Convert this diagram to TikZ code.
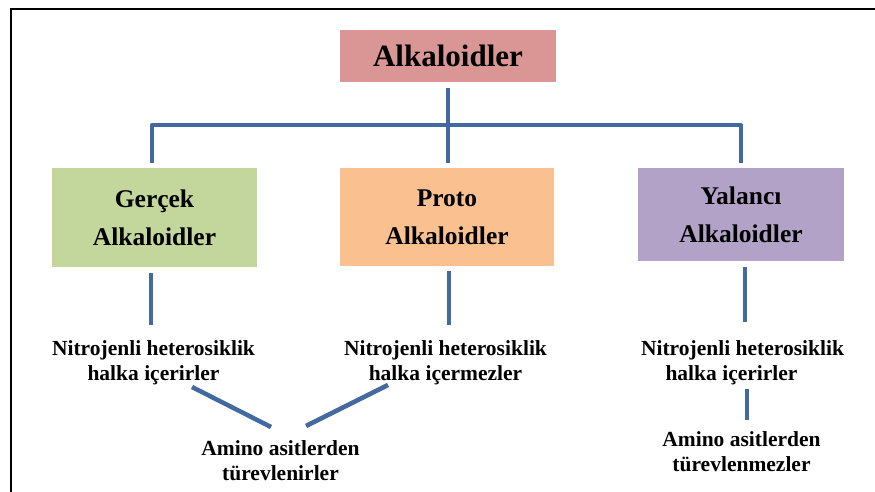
\documentclass[tikz,border=0pt]{standalone}
\usepackage{fontspec}
\setmainfont{Liberation Serif}
\definecolor{lineblue}{RGB}{66,106,160}
\definecolor{rootfill}{HTML}{D99694}
\definecolor{greenfill}{HTML}{C3D69B}
\definecolor{orangefill}{HTML}{FAC090}
\definecolor{purplefill}{HTML}{B3A2C7}
\tikzset{
  conn/.style={draw=lineblue, line width=4.5pt, line join=round},
  catbox/.style={rectangle, inner sep=0pt, align=center, font=\fontsize{25.5}{38}\selectfont\bfseries},
  note/.style={inner sep=0pt, align=center, anchor=north, font=\fontsize{21.5}{25}\selectfont\bfseries},
}
\begin{document}
\begin{tikzpicture}[x=1pt,y=-1pt]
\useasboundingbox (0,0) rectangle (875,492);
\fill[white] (0,0) rectangle (875,492);
% frame
\draw[line width=2pt] (11,492) -- (11,9) -- (875,9);

% boxes
\node[catbox, fill=rootfill, minimum width=216pt, minimum height=52pt,
      font=\fontsize{31}{36}\selectfont\bfseries] (root) at (448,56) {Alkaloidler};
\node[catbox, fill=greenfill, minimum width=205pt, minimum height=99pt] (g) at (154.5,217.5) {Gerçek\\Alkaloidler};
\node[catbox, fill=orangefill, minimum width=214pt, minimum height=98pt] (p) at (447,217) {Proto\\Alkaloidler};
\node[catbox, fill=purplefill, minimum width=206pt, minimum height=93pt] (y) at (741,214.5) {Yalancı\\Alkaloidler};

% texts
\node[note] (tg) at (153.5,340) {Nitrojenli heterosiklik\\halka içerirler};
\node[note] (tp) at (445.5,340) {Nitrojenli heterosiklik\\halka içermezler};
\node[note] (ty) at (742.5,340) {Nitrojenli heterosiklik\\halka içerirler\hspace*{22pt}};
\node[note] (ag) at (280.5,440) {Amino asitlerden\\türevlenirler};
\node[note] (ay) at (741.5,431) {Amino asitlerden\\türevlenmezler};

% tree connectors
\coordinate (bar) at (448,125);
\draw[conn] ([yshift=-6pt]root.south) -- ([yshift=5pt]root.south |- p.north);
\draw[conn] ([xshift=-2.5pt,yshift=5pt]g.north) |- (bar) -| ([yshift=5pt]y.north);

% lower connectors
\coordinate (gend) at (151,325);
\coordinate (pend) at (449,325);
\coordinate (yend) at (745,322);
\draw[conn] (gend |- g.south) ++(0,6) -- (gend);
\draw[conn] (pend |- p.south) ++(0,5) -- (pend);
\draw[conn] (yend |- y.south) ++(0,6) -- (yend);

\coordinate (d1s) at (192,387);
\coordinate (d1e) at (271,427);
\coordinate (d2s) at (388,385);
\coordinate (d2e) at (306,426);
\draw[conn] (d1s) -- (d1e);
\draw[conn] (d2s) -- (d2e);

\coordinate (vs) at (747,389);
\coordinate (ve) at (747,420);
\draw[conn] (vs) -- (ve);
\end{tikzpicture}
\end{document}
